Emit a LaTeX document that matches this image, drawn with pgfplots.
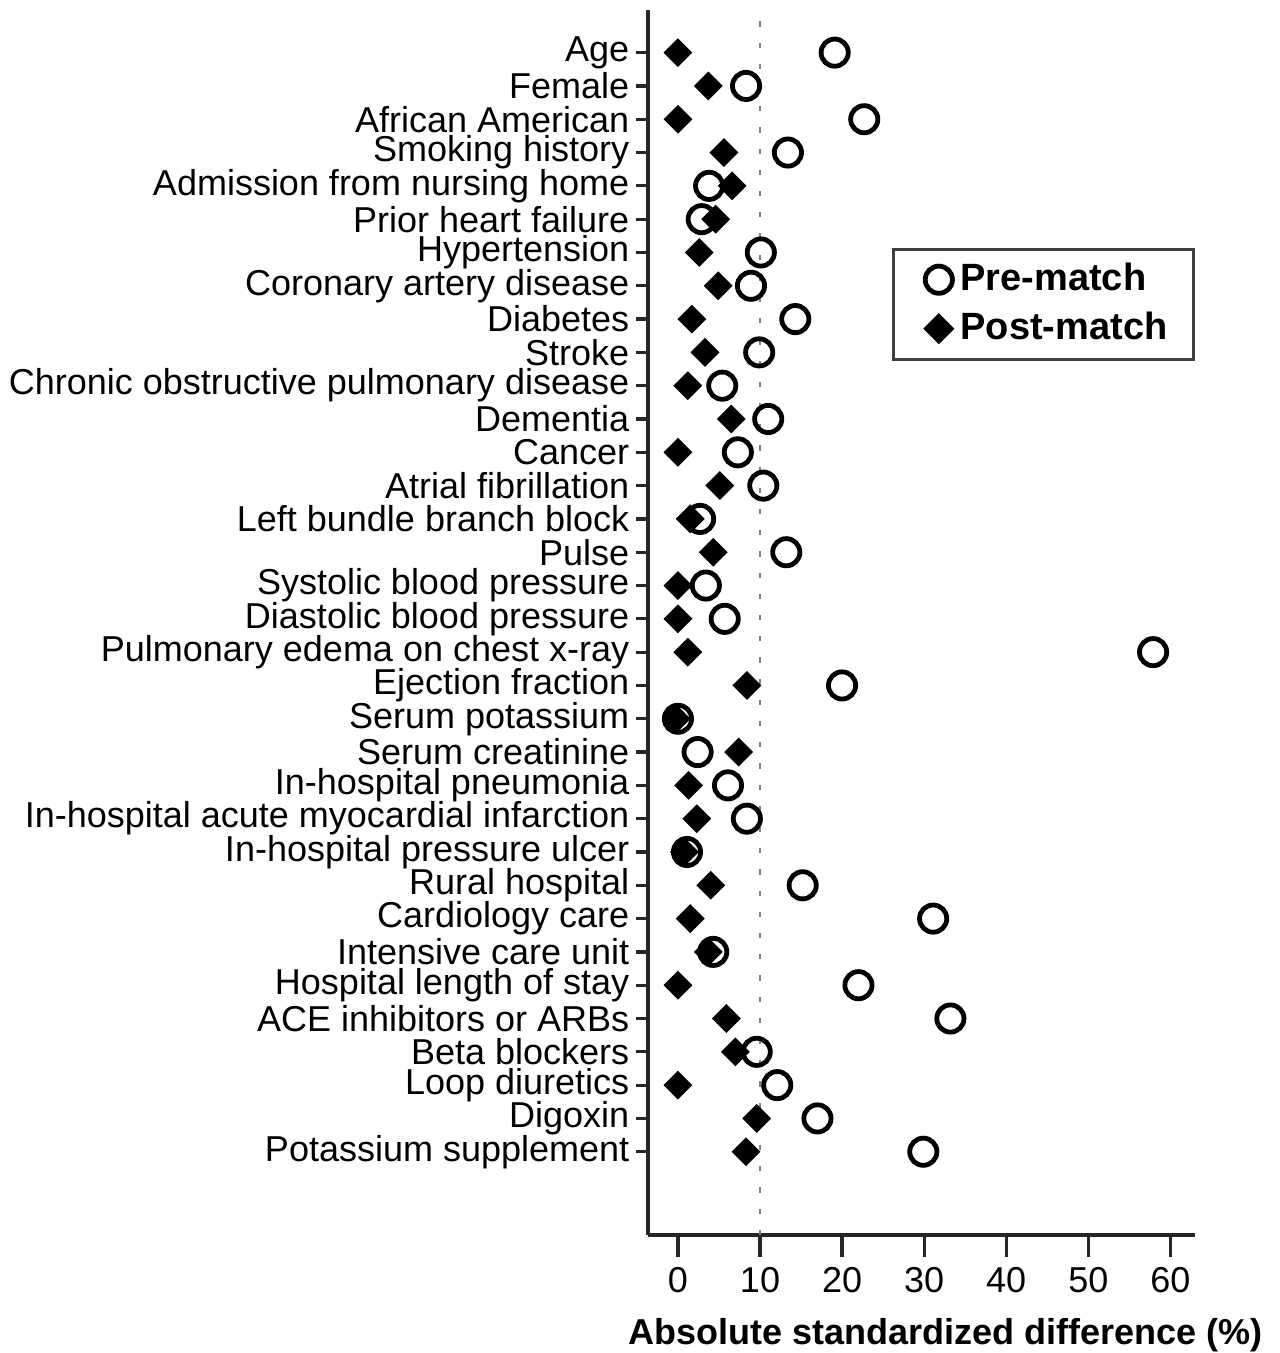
\documentclass[border=0pt]{standalone}
\usepackage{pgfplots}
\pgfplotsset{compat=1.18}
\usepackage{fontspec}
\setmainfont{Liberation Sans}
\pgfplotstableread{
y pre post
34 19.1 0.0
33 8.3 3.7
32 22.7 0.0
31 13.4 5.6
30 3.8 6.6
29 2.9 4.6
28 10.1 2.6
27 8.9 4.9
26 14.3 1.7
25 9.9 3.3
24 5.4 1.2
23 11.0 6.5
22 7.3 0.0
21 10.4 5.1
20 2.7 1.5
19 13.2 4.3
18 3.4 0.0
17 5.7 0.0
16 57.9 1.2
15 20.0 8.4
14 0.0 -0.2
13 2.4 7.4
12 6.1 1.3
11 8.4 2.3
10 1.1 0.8
9 15.2 4.0
8 31.1 1.5
7 4.3 3.7
6 22.0 0.0
5 33.2 5.9
4 9.6 7.0
3 12.1 0.0
2 17.0 9.6
1 29.9 8.3
}\data
\begin{document}
\fontsize{9}{10.8}\selectfont
\begin{tikzpicture}
\begin{axis}[
  at={(0,0)}, anchor=south west,
  scale only axis,
  width=136.75pt, height=306.25pt,
  xmin=-3.65, xmax=63,
  ymin=-1.5, ymax=35.28,
  axis lines=left,
  axis line style={-, black!85, line width=0.9pt},
  tick align=outside,
  major tick length=3pt,
  xtick={0,10,20,30,40,50,60},
  xtick style={/pgfplots/major tick length=5.5pt, line width=0.8pt, black!85},
  ytick style={line width=0.8pt, black!85},
  ytick={1,...,34},
  yticklabels={Potassium supplement, Digoxin, Loop diuretics, Beta blockers, ACE inhibitors or ARBs, Hospital length of stay, Intensive care unit, Cardiology care, Rural hospital, In-hospital pressure ulcer, In-hospital acute myocardial infarction, In-hospital pneumonia, Serum creatinine, Serum potassium, Ejection fraction, Pulmonary edema on chest x-ray, Diastolic blood pressure, Systolic blood pressure, Pulse, Left bundle branch block, Atrial fibrillation, Cancer, Dementia, Chronic obstructive pulmonary disease, Stroke, Diabetes, Coronary artery disease, Hypertension, Prior heart failure, Admission from nursing home, Smoking history, African American, Female, Age},
  /pgf/number format/assume math mode=true,
  tick label style={font=\fontsize{9}{10.8}\selectfont},
  yticklabel style={inner xsep=1.5pt, inner ysep=0pt},
  xticklabel style={yshift=-2pt},
  xlabel={Absolute standardized difference (\%)},
  xlabel style={font=\fontsize{9}{10.8}\selectfont\bfseries, xshift=6pt},
  legend style={at={(1,0.806)}, anchor=north east, draw=black!75, line width=0.8pt,
    font=\fontsize{9.5}{11}\selectfont\bfseries, row sep=0pt, inner xsep=4.5pt, inner ysep=1.5pt},
  legend cell align=left,
  legend image code/.code={\path (-6.3pt,0pt); \draw[#1] plot coordinates {(0pt,0pt)};},
  clip=false,
]
\addplot[gray, line width=0.7pt, dash pattern=on 1.3pt off 4pt, forget plot] coordinates {(10,-1.5) (10,35.28)};
\addplot[only marks, mark=o, mark size=3.4pt, line width=1.2pt, black] table[x=pre, y=y] {\data};
\addlegendentry{Pre-match}
\addplot[only marks, mark=square*, mark size=2.35pt, mark options={rotate=45}, black, fill=black] table[x=post, y=y] {\data};
\addlegendentry{Post-match}
\end{axis}
\pgfresetboundingbox
\useasboundingbox (-162pt,-29.5pt) rectangle (157.75pt,308.75pt);
\end{tikzpicture}
\end{document}
